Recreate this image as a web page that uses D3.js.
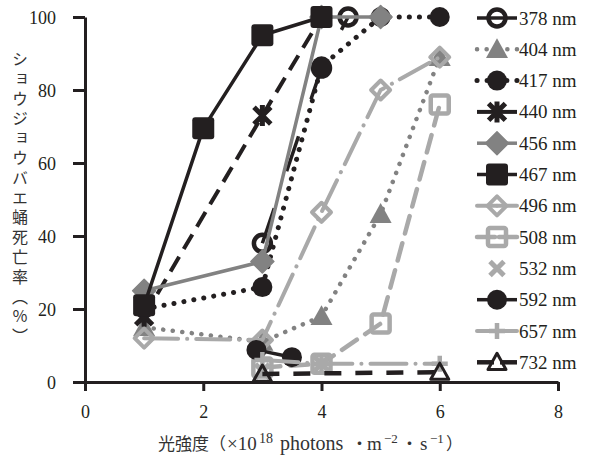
<!DOCTYPE html>
<html>
<head>
<meta charset="utf-8">
<script src="https://cdn.jsdelivr.net/npm/d3@7"></script>
<style>
body { margin: 0; background: #fff; }
</style>
</head>
<body>
<div id="chart"></div>
<script>
// legend labels, in drawing order
const wavelengths = ["378 nm", "404 nm", "417 nm", "440 nm", "456 nm", "467 nm",
                     "496 nm", "508 nm", "532 nm", "592 nm", "657 nm", "732 nm"];

// light intensity (x10^18 photons m-2 s-1) and pupal mortality (%) per wavelength
const x378 = [3, 4, 4.45],          y378 = [38, 86, 100];
const x404 = [1, 3, 4, 5, 6],       y404 = [15, 11, 18, 46, 89];
const x417 = [1, 3, 4, 5, 6],       y417 = [20, 26, 86.5, 100, 100];
const x440 = [1, 3, 4],             y440 = [18, 73, 100];
const x456 = [1, 3, 4, 5],          y456 = [25, 33, 100, 100];
const x467 = [1, 2, 3, 4],          y467 = [21, 69.5, 95, 100];
const x496 = [1, 3, 4, 5, 6],       y496 = [12, 11.5, 46.5, 80, 89];
const x508 = [3, 4, 5, 6],          y508 = [4, 5, 16, 76];
const x532 = [3, 4],                y532 = [3, 5];
const x592 = [2.9, 3.5],            y592 = [8.8, 6.8];
const x657 = [3, 4, 6],             y657 = [6, 5, 5];
const x732 = [3, 6],                y732 = [2.2, 2.7];

const xTicks = [0, 2, 4, 6, 8];
const yTicks = [0, 20, 40, 60, 80, 100];

const xs = [x378, x404, x417, x440, x456, x467, x496, x508, x532, x592, x657, x732];
const ys = [y378, y404, y417, y440, y456, y467, y496, y508, y532, y592, y657, y732];
const series = wavelengths.map((w, i) => ({
  name: w,
  pts: xs[i].map((v, j) => ({ x: v, y: ys[i][j] }))
}));

const BLACK = "#231f20", MID = "#828282", LIGHT = "#a9a9a9";
const styles = {
  "378 nm": { color: BLACK, width: 3.5, dash: "37,39", cap: "butt",  marker: "ocircle",  size: 8.5 },
  "404 nm": { color: MID,   width: 4.5, dash: "0.1,9.5", cap: "round", marker: "triangle", size: 11 },
  "417 nm": { color: BLACK, width: 5,   dash: "0.1,10", cap: "round", marker: "circle",   size: 10 },
  "440 nm": { color: BLACK, width: 4,   dash: "17,9", cap: "butt",   marker: "star",     size: 10.5 },
  "456 nm": { color: MID,   width: 3.5, dash: null, cap: "butt",     marker: "diamond",  size: 11.5 },
  "467 nm": { color: BLACK, width: 3.5, dash: null, cap: "butt",     marker: "square",   size: 11 },
  "496 nm": { color: LIGHT, width: 4,   dash: "34,9,0.1,9", cap: "round", marker: "odiamond", size: 9.5 },
  "508 nm": { color: LIGHT, width: 4.5, dash: "18,10", cap: "round", marker: "osquare",  size: 9 },
  "532 nm": { color: LIGHT, width: 0,   dash: null, cap: "butt",     marker: "x",        size: 7 },
  "592 nm": { color: BLACK, width: 3.5, dash: null, cap: "butt",     marker: "circle",   size: 10 },
  "657 nm": { color: LIGHT, width: 4,   dash: "36,9,0.1,9", cap: "round", marker: "plus", size: 8 },
  "732 nm": { color: BLACK, width: 4.5, dash: "17,14", cap: "butt",  marker: "otriangle", size: 9 }
};

const width = 590, height = 456;
const svg = d3.select("#chart").append("svg")
  .attr("width", width)
  .attr("height", height)
  .style("font-family", "'Liberation Serif', 'DejaVu Serif', serif");

const x = d3.scaleLinear().domain([0, 8]).range([85, 558]);
const y = d3.scaleLinear().domain([0, 100]).range([382, 17]);

// axes
const xAxis = svg.append("g")
  .attr("transform", "translate(0," + y(0) + ")")
  .call(d3.axisBottom(x).tickValues(xTicks).tickSize(9).tickSizeOuter(0).tickPadding(14));
const yAxis = svg.append("g")
  .attr("transform", "translate(" + x(0) + ",0)")
  .call(d3.axisLeft(y).tickValues(yTicks).tickSize(12).tickSizeOuter(0).tickPadding(17));

[xAxis, yAxis].forEach(function(a) {
  a.select(".domain").attr("stroke", BLACK).attr("stroke-width", 3);
  a.selectAll(".tick line").attr("stroke", BLACK).attr("stroke-width", 3);
  a.selectAll(".tick text").attr("fill", BLACK).style("font-size", "18px")
    .style("font-family", "'Liberation Serif', serif");
});
yAxis.selectAll(".tick text").attr("dy", "0.34em");

// marker drawing
function drawMarker(g, type, cx, cy, st) {
  const s = st.size, c = st.color;
  if (type === "circle") {
    g.append("circle").attr("cx", cx).attr("cy", cy).attr("r", s).attr("fill", c);
  } else if (type === "ocircle") {
    g.append("circle").attr("cx", cx).attr("cy", cy).attr("r", s)
      .attr("fill", "none").attr("stroke", c).attr("stroke-width", 4.5);
  } else if (type === "square") {
    g.append("rect").attr("x", cx - s).attr("y", cy - s).attr("width", 2 * s).attr("height", 2 * s)
      .attr("rx", 3).attr("fill", c);
  } else if (type === "osquare") {
    g.append("rect").attr("x", cx - s).attr("y", cy - s).attr("width", 2 * s).attr("height", 2 * s)
      .attr("rx", 2).attr("fill", "none").attr("stroke", c).attr("stroke-width", 4.5);
  } else if (type === "diamond" || type === "odiamond") {
    const p = g.append("path")
      .attr("d", "M" + cx + "," + (cy - s) + "L" + (cx + s) + "," + cy + "L" + cx + "," + (cy + s) + "L" + (cx - s) + "," + cy + "Z")
      .attr("stroke-linejoin", "round");
    if (type === "diamond") p.attr("fill", c).attr("stroke", c).attr("stroke-width", 1.5);
    else p.attr("fill", "none").attr("stroke", c).attr("stroke-width", 4);
  } else if (type === "triangle" || type === "otriangle") {
    const p = g.append("path")
      .attr("d", "M" + cx + "," + (cy - s) + "L" + (cx + s) + "," + (cy + s * 0.8) + "L" + (cx - s) + "," + (cy + s * 0.8) + "Z")
      .attr("stroke-linejoin", "round");
    if (type === "triangle") p.attr("fill", c);
    else p.attr("fill", "none").attr("stroke", c).attr("stroke-width", 3);
  } else if (type === "star") {
    const k = s * 0.8;
    g.append("path")
      .attr("d", "M" + (cx - k) + "," + (cy - k) + "L" + (cx + k) + "," + (cy + k) +
                 "M" + (cx + k) + "," + (cy - k) + "L" + (cx - k) + "," + (cy + k) +
                 "M" + cx + "," + (cy - s) + "L" + cx + "," + (cy + s))
      .attr("stroke", c).attr("stroke-width", 5).attr("fill", "none");
  } else if (type === "plus") {
    g.append("path")
      .attr("d", "M" + (cx - s) + "," + cy + "L" + (cx + s) + "," + cy + "M" + cx + "," + (cy - s) + "L" + cx + "," + (cy + s))
      .attr("stroke", c).attr("stroke-width", 4.5).attr("fill", "none");
  } else if (type === "x") {
    g.append("path")
      .attr("d", "M" + (cx - s) + "," + (cy - s) + "L" + (cx + s) + "," + (cy + s) + "M" + (cx + s) + "," + (cy - s) + "L" + (cx - s) + "," + (cy + s))
      .attr("stroke", c).attr("stroke-width", 5).attr("fill", "none");
  }
}

const line = d3.line().x(d => x(d.x)).y(d => y(d.y));

// series: line then markers, in order
series.forEach(function(sr) {
  const st = styles[sr.name];
  const g = svg.append("g").attr("class", "series");
  if (st.width > 0) {
    g.append("path")
      .datum(sr.pts)
      .attr("d", line)
      .attr("fill", "none")
      .attr("stroke", st.color)
      .attr("stroke-width", st.width)
      .attr("stroke-dasharray", st.dash)
      .attr("stroke-linecap", st.cap)
      .attr("stroke-linejoin", "round");
  }
  sr.pts.forEach(function(p) { drawMarker(g, st.marker, x(p.x), y(p.y), st); });
});

// legend
const leg = svg.append("g").attr("class", "legend");
series.forEach(function(sr, i) {
  const st = styles[sr.name];
  const cy = 18 + i * 31.3;
  const g = leg.append("g");
  if (st.width > 0) {
    [[477, 497], [517, 497]].forEach(function(seg) {
      g.append("line")
        .attr("x1", seg[0]).attr("x2", seg[1]).attr("y1", cy).attr("y2", cy)
        .attr("stroke", st.color)
        .attr("stroke-width", st.width)
        .attr("stroke-dasharray", st.dash)
        .attr("stroke-linecap", st.cap);
    });
  }
  drawMarker(g, st.marker, 497, cy, st);
  g.append("text")
    .attr("x", 519).attr("y", cy + 6.5)
    .attr("fill", BLACK)
    .style("font-size", "19px")
    .text(sr.name);
});

// y axis title (vertical Japanese)
svg.append("text")
  .attr("x", 20).attr("y", 51)
  .style("writing-mode", "vertical-rl")
  .style("font-family", "'Noto Sans CJK JP', sans-serif")
  .style("font-size", "16px")
  .style("letter-spacing", "3.8px")
  .attr("fill", "#333")
  .text("ショウジョウバエ蛹死亡率（％）");

// x axis title, pieces placed along one baseline
const cjk = "'Noto Sans CJK JP', sans-serif";
const xt = svg.append("text").attr("y", 450).attr("fill", "#333").style("font-size", "19px");
xt.append("tspan").attr("x", 158).style("font-family", cjk).style("font-size", "17px").text("光強度（");
xt.append("tspan").attr("x", 227).text("×10");
xt.append("tspan").attr("x", 259).attr("dy", -7).style("font-size", "14px").text("18");
xt.append("tspan").attr("x", 275).attr("dy", 7).style("font-size", "20px").text(" photons");
xt.append("tspan").attr("x", 351).style("font-family", cjk).style("font-size", "17px").text("・");
xt.append("tspan").attr("x", 367).text("m");
xt.append("tspan").attr("x", 384).attr("dy", -7).style("font-size", "13px").text("−2");
xt.append("tspan").attr("x", 401).attr("dy", 7).style("font-family", cjk).style("font-size", "17px").text("・");
xt.append("tspan").attr("x", 420).text("s");
xt.append("tspan").attr("x", 430).attr("dy", -7).style("font-size", "13px").text("−1");
xt.append("tspan").attr("x", 446).attr("dy", 7).style("font-family", cjk).style("font-size", "17px").text("）");
</script>
</body>
</html>
